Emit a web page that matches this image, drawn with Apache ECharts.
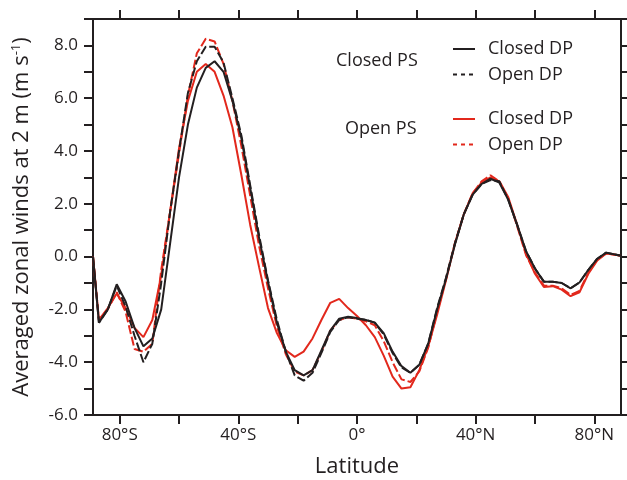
<!DOCTYPE html>
<html>
<head>
<meta charset="utf-8">
<script src="https://cdn.jsdelivr.net/npm/echarts@6/dist/echarts.min.js"></script>
<style>
  html, body { margin: 0; padding: 0; background: #fff; }
  #container { width: 627px; height: 480px; }
</style>
</head>
<body>
<div id="container"></div>
<script>
var lats = [-89, -87, -84, -81, -78, -75, -72, -69, -66, -63,
    -60, -57, -54, -51, -48, -45, -42, -39, -36, -33,
    -30, -27, -24, -21, -18, -15, -12, -9, -6, -3,
    0, 3, 6, 9, 12, 15, 18, 21, 24, 27,
    30, 33, 36, 39, 42, 45, 48, 51, 54, 57,
    60, 63, 66, 69, 72, 75, 78, 81, 84, 87,
    89];

// black solid
var closedPsClosedDp = [0.0, -2.5, -2.0, -1.05, -1.7, -2.7, -3.4, -3.1, -2.0, 0.5,
    3.0, 5.0, 6.4, 7.15, 7.4, 7.0, 5.9, 4.5, 2.6, 0.7,
    -0.95, -2.5, -3.6, -4.3, -4.5, -4.3, -3.55, -2.8, -2.35, -2.28,
    -2.33, -2.4, -2.5, -2.9, -3.6, -4.15, -4.4, -4.1, -3.3, -2.0,
    -0.85, 0.45, 1.6, 2.35, 2.75, 2.95, 2.8, 2.15, 1.2, 0.2,
    -0.45, -0.95, -0.95, -1.0, -1.2, -0.98, -0.5, -0.08, 0.15, 0.08,
    0.03];
// black dashed
var closedPsOpenDp = [0.0, -2.5, -2.0, -1.1, -1.9, -3.0, -4.0, -3.3, -1.0, 1.7,
    4.0, 6.2, 7.4, 7.95, 7.95, 7.35, 6.0, 4.6, 2.7, 0.8,
    -0.9, -2.4, -3.6, -4.5, -4.7, -4.4, -3.65, -2.85, -2.4, -2.3,
    -2.35, -2.4, -2.5, -2.95, -3.65, -4.2, -4.4, -4.1, -3.3, -1.95,
    -0.8, 0.5, 1.6, 2.35, 2.75, 2.9, 2.85, 2.15, 1.2, 0.2,
    -0.45, -0.95, -0.95, -1.0, -1.2, -0.98, -0.5, -0.08, 0.15, 0.08,
    0.03];
// red solid
var openPsClosedDp = [0.0, -2.4, -1.95, -1.4, -1.95, -2.7, -3.05, -2.4, -0.7, 1.7,
    4.1, 5.9, 7.0, 7.3, 7.0, 6.1, 4.9, 3.1, 1.2, -0.4,
    -1.95, -2.9, -3.55, -3.8, -3.6, -3.1, -2.4, -1.75, -1.6, -1.95,
    -2.25, -2.6, -3.05, -3.75, -4.55, -5.0, -4.95, -4.3, -3.4, -2.2,
    -0.9, 0.5, 1.6, 2.4, 2.8, 3.0, 2.85, 2.25, 1.2, 0.1,
    -0.65, -1.15, -1.12, -1.25, -1.5, -1.35, -0.65, -0.15, 0.12, 0.07,
    0.03];
// red dashed
var openPsOpenDp = [0.0, -2.4, -2.0, -1.35, -2.1, -3.5, -3.6, -3.3, -0.5, 1.7,
    3.9, 6.1, 7.7, 8.25, 8.15, 7.3, 5.9, 4.2, 2.3, 0.4,
    -1.2, -2.65, -3.7, -4.35, -4.5, -4.3, -3.6, -2.8, -2.4, -2.3,
    -2.35, -2.45, -2.6, -3.2, -4.0, -4.65, -4.75, -4.35, -3.45, -2.1,
    -0.85, 0.5, 1.6, 2.4, 2.85, 3.08, 2.85, 2.2, 1.15, 0.05,
    -0.6, -1.1, -1.1, -1.2, -1.45, -1.3, -0.6, -0.12, 0.12, 0.07,
    0.03];

var xTicks = [-80, -60, -40, -20, 0, 20, 40, 60, 80];
var xLabels = [-80, -40, 0, 40, 80];

var BLACK = '#231f20';
var RED = '#e2281c';
var FONT = 'Open Sans';

function pairs(ys) {
    return lats.map(function (x, i) { return [x, ys[i]]; });
}
function latLabel(v) {
    if (v === 0) return '0°';
    return Math.abs(v) + '°' + (v < 0 ? 'S' : 'N');
}

var frameLine = { show: true, onZero: false, lineStyle: { color: BLACK, width: 2 } };
var frameTick = { show: true, inside: false, length: 9, lineStyle: { color: BLACK, width: 2 } };

function legendBlock(top, group) {
    return {
        left: 452, top: top, orient: 'vertical', padding: 0,
        itemWidth: 22, itemHeight: 14, itemGap: 7.5,
        selectedMode: false,
        itemStyle: { opacity: 0 },
        textStyle: { fontFamily: FONT, fontSize: 18, color: BLACK, padding: [0, 0, 0, 8] },
        formatter: function (n) { return n.split('|')[1]; },
        data: [
            { name: group + '|Closed DP' },
            { name: group + '|Open DP', lineStyle: { type: [4, 4] } }
        ]
    };
}

var dom = document.getElementById('container');
var myChart = echarts.init(dom);

var option = {
    animation: false,
    backgroundColor: '#fff',
    textStyle: { fontFamily: FONT, color: BLACK },
    grid: { left: 93, right: 6, top: 19, bottom: 65, outerBoundsMode: 'none' },
    legend: [legendBlock(40, 'Closed PS'), legendBlock(110, 'Open PS')],
    graphic: [
        { type: 'text', left: 336, top: 52, style: { text: 'Closed PS', fontFamily: FONT, fontSize: 18, fill: BLACK } },
        { type: 'text', left: 345, top: 120, style: { text: 'Open PS', fontFamily: FONT, fontSize: 18, fill: BLACK } }
    ],
    xAxis: [
        {
            type: 'value', min: -89, max: 89, position: 'bottom',
            axisLine: frameLine,
            axisTick: Object.assign({ customValues: xTicks }, frameTick),
            axisLabel: {
                customValues: xLabels, formatter: latLabel,
                fontFamily: FONT, fontSize: 17, color: BLACK, margin: 12
            },
            splitLine: { show: false },
            name: 'Latitude', nameLocation: 'middle', nameGap: 41,
            nameTextStyle: { fontFamily: FONT, fontSize: 22, color: BLACK }
        },
        {
            type: 'value', min: -89, max: 89, position: 'top',
            axisLine: frameLine,
            axisTick: Object.assign({ customValues: xTicks }, frameTick),
            axisLabel: { show: false },
            splitLine: { show: false }
        }
    ],
    yAxis: [
        {
            type: 'value', min: -6, max: 9, interval: 1, position: 'left',
            axisLine: frameLine,
            axisTick: frameTick,
            axisLabel: {
                formatter: function (v) { return v % 2 === 0 ? v.toFixed(1) : ''; },
                fontFamily: FONT, fontSize: 17, color: BLACK, margin: 15
            },
            splitLine: { show: false },
            name: 'Averaged zonal winds at 2 m (m s{sup|-1})',
            nameLocation: 'middle', nameGap: 60, nameRotate: 90,
            nameTextStyle: {
                fontFamily: FONT, fontSize: 22, color: BLACK,
                rich: { sup: { fontFamily: FONT, fontSize: 13, color: BLACK, padding: [0, 0, 10, 0] } }
            }
        },
        {
            type: 'value', min: -6, max: 9, interval: 1, position: 'right',
            axisLine: frameLine,
            axisTick: frameTick,
            axisLabel: { show: false },
            splitLine: { show: false }
        }
    ],
    series: [
        {
            name: 'Open PS|Open DP', type: 'line', symbol: 'none', smooth: false,
            color: RED, lineStyle: { color: RED, width: 2, type: [9, 3] },
            data: pairs(openPsOpenDp)
        },
        {
            name: 'Open PS|Closed DP', type: 'line', symbol: 'none', smooth: false,
            color: RED, lineStyle: { color: RED, width: 2 },
            data: pairs(openPsClosedDp)
        },
        {
            name: 'Closed PS|Open DP', type: 'line', symbol: 'none', smooth: false,
            color: BLACK, lineStyle: { color: BLACK, width: 2, type: [9, 3] },
            data: pairs(closedPsOpenDp)
        },
        {
            name: 'Closed PS|Closed DP', type: 'line', symbol: 'none', smooth: false,
            color: BLACK, lineStyle: { color: BLACK, width: 2 },
            data: pairs(closedPsClosedDp)
        }
    ]
};

if (option && typeof option === 'object') {
    myChart.setOption(option, true);
}
</script>
</body>
</html>
